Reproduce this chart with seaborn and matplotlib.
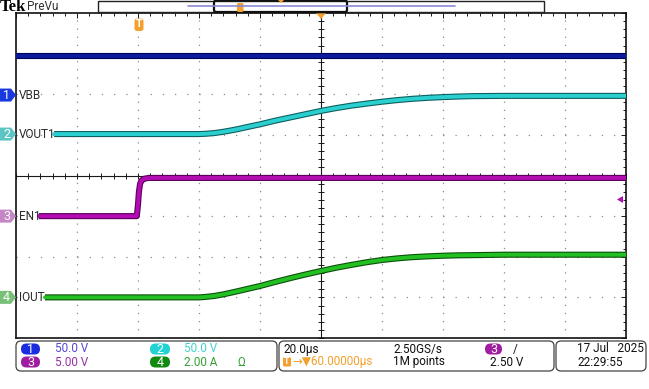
import matplotlib
matplotlib.use("Agg")
import numpy as np
import matplotlib.pyplot as plt
import seaborn as sns
import matplotlib.patheffects as pe
from matplotlib.patches import Polygon, FancyBboxPatch, Rectangle
from matplotlib.ticker import MultipleLocator

# --- data (time in µs from left edge, 20 µs/div) ---
vbb_t = [0, 200]
vbb_v = [48, 48]                      # V

vout_t = [12.5, 60, 62, 65, 68, 72, 76, 80, 85, 90, 95, 100, 105, 110, 115, 120,
          125, 130, 135, 140, 145, 150, 160, 200]
vout_v = [0, 0, 0.3, 1.2, 2.8, 5.5, 8.8, 12, 16.5, 20.5, 24.5, 28.5, 32, 35,
          37.5, 39.8, 41.8, 43.4, 44.6, 45.5, 46.2, 46.7, 47, 47]   # V

en_t = [7.5, 39.6, 40.0, 40.3, 40.7, 41.2, 42.0, 43.5, 200]
en_v = [0, 0, 1.4, 3.0, 4.0, 4.4, 4.6, 4.7, 4.7]      # V

iout_t = [9.5, 60, 62, 65, 68, 72, 76, 80, 85, 90, 95, 100, 105, 110, 115, 120,
          125, 130, 135, 140, 145, 150, 160, 200]
iout_v = [0, 0, 0.02, 0.07, 0.15, 0.28, 0.42, 0.56, 0.76, 0.95, 1.13, 1.3, 1.46,
          1.6, 1.73, 1.84, 1.92, 1.98, 2.02, 2.05, 2.07, 2.08, 2.1, 2.1]  # A

ch_names = ["VBB", "VOUT1", "EN1", "IOUT"]
ch_scale = [50.0, 50.0, 5.0, 2.0]      # units/div
ch_ground = [1.98, 1.02, -1.0, -3.0]   # ground marker, divisions

W, H = 649, 389
FS = 8.5

sns.set_style("white")
plt.rcParams["font.family"] = ["Roboto", "DejaVu Sans"]
plt.rcParams["lines.scale_dashes"] = False

fig = plt.figure(figsize=(W / 100, H / 100), dpi=100)
fig.patch.set_facecolor("white")
ax = fig.add_axes([16 / W, (H - 338) / H, 610 / W, 325 / H])
ax.set_xlim(0, 200)
ax.set_ylim(-4, 4)

# graticule
for xv in range(20, 200, 20):
    if xv != 100:
        ax.axvline(xv, color="#8c8c8c", lw=0.9, ls=(0, (0.9, 4.95)), zorder=1)
for yv in range(-3, 4):
    if yv != 0:
        ax.axhline(yv, color="#8c8c8c", lw=0.9, ls=(0, (0.9, 7.88)), zorder=1)
ax.axvline(100, color="#1a1a1a", lw=0.8, zorder=1)
ax.axhline(0, color="#1a1a1a", lw=0.8, zorder=1)
ax.plot(np.arange(0, 201, 4), np.zeros(51), ls="none", marker="|", ms=4,
        mew=0.7, color="#1a1a1a", zorder=1)
ax.plot(np.full(41, 100), np.linspace(-4, 4, 41), ls="none", marker="_", ms=4,
        mew=0.7, color="#1a1a1a", zorder=1)

ax.xaxis.set_major_locator(MultipleLocator(20))
ax.xaxis.set_minor_locator(MultipleLocator(4))
ax.yaxis.set_major_locator(MultipleLocator(1))
ax.yaxis.set_minor_locator(MultipleLocator(0.2))
ax.tick_params(which="both", direction="in", top=True, right=True,
               labelbottom=False, labelleft=False, color="#1a1a1a", width=0.7)
ax.tick_params(which="major", length=3.5)
ax.tick_params(which="minor", length=2)
for sp in ax.spines.values():
    sp.set_color("#111111")
    sp.set_linewidth(1.2)

# traces
traces = [(vbb_t, vbb_v), (vout_t, vout_v), (en_t, en_v), (iout_t, iout_v)]
cores = ["#0c1c9c", "#2ccfcf", "#b20cb2", "#22c022"]
edges = ["#000058", "#0d6060", "#5a005a", "#0c500c"]
for (t, v), sc, gnd, c, e in zip(traces, ch_scale, ch_ground, cores, edges):
    y = gnd + np.array(v) / sc
    sns.lineplot(x=t, y=y, ax=ax, color=c, lw=2.8, estimator=None, sort=False,
                 zorder=3,
                 path_effects=[pe.Stroke(linewidth=4.4, foreground=e, capstyle="butt"),
                               pe.Normal()])
ax.set_xlabel("")
ax.set_ylabel("")

# overlay in pixel coordinates for the scope decorations
ov = fig.add_axes([0, 0, 1, 1])
ov.set_xlim(0, W)
ov.set_ylim(H, 0)
ov.axis("off")
ov.patch.set_alpha(0)

# channel markers + names
mark_cols = ["#1838e0", "#5cc4c4", "#c486c4", "#78c078"]
for i, (name, gnd, mc) in enumerate(zip(ch_names, ch_ground, mark_cols)):
    yp = 13 + (4 - gnd) * 325 / 8
    ov.add_patch(Polygon([(0, yp - 6.5), (11, yp - 6.5), (16, yp), (11, yp + 6.5), (0, yp + 6.5)],
                         closed=True, fc=mc, ec="none"))
    ov.text(6.5, yp + 0.5, str(i + 1), color="white", fontsize=9, ha="center", va="center")
    ov.text(18.5, yp, name, color="#2a2a2a", fontsize=FS, ha="left", va="center")

# trigger markers
ov.add_patch(FancyBboxPatch((134.5, 18.5), 9, 12.5, boxstyle="round,pad=0,rounding_size=2.5",
                            fc="#f3a02c", ec="none"))
ov.text(139, 24, "T", color="white", fontsize=7.5, ha="center", va="center", weight="bold")
ov.add_patch(Polygon([(316, 13), (326, 13), (321, 19)], closed=True, fc="#f3a02c", ec="none"))
ov.add_patch(Polygon([(623, 196), (623, 203), (617, 199.5)], closed=True, fc="#b20cb2", ec="none"))

# top bar
ov.text(-0.5, 6.5, "Tek", fontsize=12, weight="bold", family="Liberation Serif",
        ha="left", va="center", color="black")
ov.text(27, 6.5, "PreVu", fontsize=FS, ha="left", va="center", color="#333333")
ov.add_patch(Rectangle((98, 0.5), 446, 11.5, fc="white", ec="#222222", lw=1.0))
ov.plot([188, 455], [6, 6], color="#8a8ad8", lw=1.2)
ov.add_patch(FancyBboxPatch((214, 0.5), 133, 11.5, boxstyle="round,pad=0,rounding_size=2",
                            fc="none", ec="#111111", lw=1.6))
ov.add_patch(FancyBboxPatch((237, 3), 6.5, 9, boxstyle="round,pad=0,rounding_size=1.5",
                            fc="#f3a02c", ec="none"))
ov.add_patch(Polygon([(278, 0), (284, 0), (281, 3)], closed=True, fc="#f3a02c", ec="none"))

# bottom status boxes
for x0, x1 in [(16, 277), (279, 554), (556, 646)]:
    ov.add_patch(FancyBboxPatch((x0, 341), x1 - x0, 30, boxstyle="round,pad=0,rounding_size=5",
                                fc="white", ec="#444444", lw=0.9))

def pill(x, y, w, col, label):
    ov.add_patch(FancyBboxPatch((x, y - 5.5), w, 11, boxstyle="round,pad=0,rounding_size=5.5",
                                fc=col, ec="none"))
    ov.text(x + w / 2, y + 0.5, label, color="white", fontsize=9, ha="center", va="center")

pill(21, 349, 19, "#1a2ee0", "1")
pill(21, 362, 19, "#a01ca0", "3")
pill(150, 349, 20, "#22d2d2", "2")
pill(150, 362, 20, "#128a12", "4")
ov.text(55, 349, "50.0 V", color="#5448d0", fontsize=FS, va="center")
ov.text(55, 362, "5.00 V", color="#9430a4", fontsize=FS, va="center")
ov.text(184, 349, "50.0 V", color="#44d0d0", fontsize=FS, va="center")
ov.text(184, 362, "2.00 A", color="#34a034", fontsize=FS, va="center")
ov.text(237, 362, "Ω", color="#34a034", fontsize=FS, va="center")

ov.text(283, 349, "20.0µs", color="#111111", fontsize=FS, va="center")
ov.add_patch(FancyBboxPatch((283, 357), 8, 9.5, boxstyle="round,pad=0,rounding_size=1.5",
                            fc="#f3a02c", ec="none"))
ov.text(287, 361.5, "T", color="white", fontsize=6.5, ha="center", va="center", weight="bold")
ov.text(292, 362, "→▼60.00000µs", color="#f3a02c", fontsize=FS, va="center")
ov.text(393, 349, "2.50GS/s", color="#111111", fontsize=FS, va="center")
ov.text(393, 362, "1M points", color="#111111", fontsize=FS, va="center")
pill(485, 349, 17, "#a01ca0", "3")
ov.text(513, 349, "/", color="#111111", fontsize=FS, va="center")
ov.text(490, 362, "2.50 V", color="#111111", fontsize=FS, va="center")
ov.text(577, 349, "17 Jul   2025", color="#111111", fontsize=FS, va="center")
ov.text(577, 362, "22:29:55", color="#111111", fontsize=FS, va="center")

fig.savefig("out.png", dpi=100)
